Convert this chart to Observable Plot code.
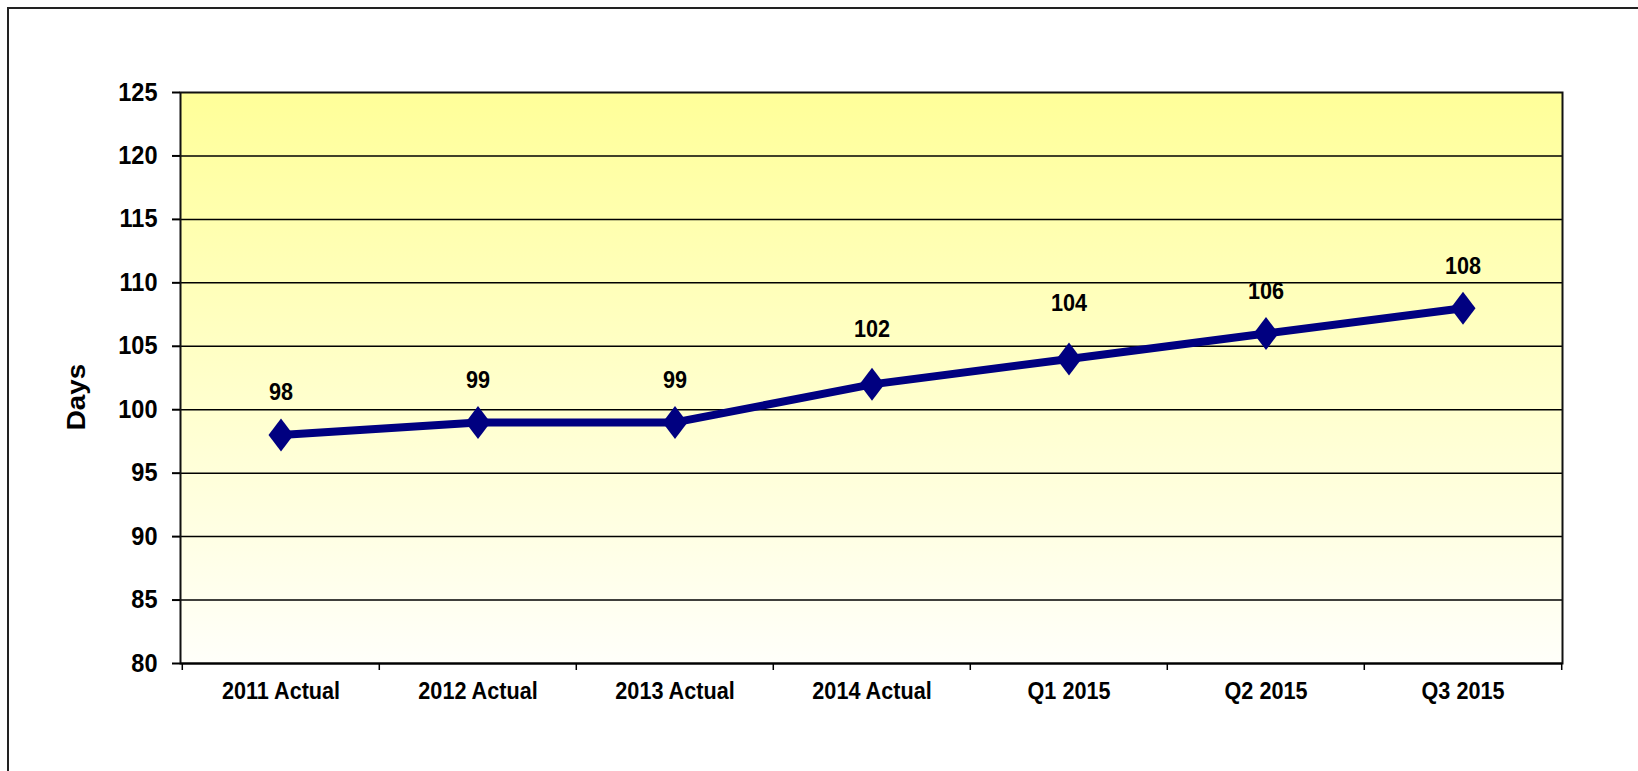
<!DOCTYPE html>
<html><head><meta charset="utf-8">
<script src="https://cdn.jsdelivr.net/npm/d3@7"></script>
<script src="https://cdn.jsdelivr.net/npm/@observablehq/plot@0.6"></script>
<style>
body{margin:0;background:#fff;}
#wrap{position:relative;width:1638px;height:771px;overflow:hidden;}
#frame{position:absolute;left:7px;top:7px;width:1700px;height:900px;border-top:2px solid #222;border-left:2px solid #222;}
#chart{position:absolute;left:0;top:0;}
</style></head><body>
<div id="wrap"><div id="frame"></div><div id="chart"></div></div>
<script>
const categories = ["2011 Actual", "2012 Actual", "2013 Actual", "2014 Actual", "Q1 2015", "Q2 2015", "Q3 2015"];
const values = [98, 99, 99, 102, 104, 106, 108];
const yTicks = [80, 85, 90, 95, 100, 105, 110, 115, 120, 125];
const yLabel = "Days";

const data = categories.map((c, i) => ({category: c, value: values[i]}));

const W = 1638, H = 771;
const mL = 180, mR = 76, mT = 92, mB = 108;
const bw = (W - mL - mR) / categories.length;

// labels that sit a bit higher in the original (moved clear of a gridline)
const raised = new Set(["2014 Actual", "Q1 2015"]);

const diamond = {
  draw(ctx) {
    const w = 12.5, h = 16.5;
    ctx.moveTo(0, -h); ctx.lineTo(w, 0); ctx.lineTo(0, h); ctx.lineTo(-w, 0); ctx.closePath();
  }
};

const chart = Plot.plot({
  width: W, height: H,
  marginLeft: mL, marginRight: mR, marginTop: mT, marginBottom: mB,
  style: {fontFamily: "'Liberation Sans', Arial, sans-serif", fontWeight: "bold", color: "#000", background: "transparent"},
  x: {type: "band", domain: categories, padding: 0, label: null},
  y: {domain: [80, 125], label: null},
  marks: [
    Plot.frame({fill: "url(#bgGrad)", stroke: null}),
    Plot.ruleY(yTicks.filter(v => v > 80 && v < 125), {stroke: "#000", strokeWidth: 1.5}),
    Plot.frame({stroke: "#111", strokeWidth: 2, fill: null}),
    Plot.ruleY([80], {stroke: "#000", strokeWidth: 2}),
    Plot.axisY({ticks: yTicks, tickSize: 8, tickPadding: 15, fontSize: 25, strokeWidth: 2, label: null}),
    Plot.axisX({ticks: categories, fill: "none", tickSize: 7, dx: -bw / 2, strokeWidth: 1.5, label: null}),
    Plot.axisX({ticks: [categories[categories.length - 1]], fill: "none", tickSize: 7, dx: bw / 2, strokeWidth: 1.5, label: null}),
    Plot.axisX({ticks: categories, tickSize: 0, tickPadding: 19, fontSize: 23, label: null}),
    Plot.line(data, {x: "category", y: "value", stroke: "#000080", strokeWidth: 8}),
    Plot.dot(data, {x: "category", y: "value", symbol: diamond, fill: "#000080", stroke: null}),
    Plot.text(data, {filter: d => !raised.has(d.category), x: "category", y: "value", text: d => String(d.value), dy: -42, fontSize: 23}),
    Plot.text(data, {filter: d => raised.has(d.category), x: "category", y: "value", text: d => String(d.value), dy: -55, fontSize: 23}),
    Plot.text([yLabel], {frameAnchor: "left", textAnchor: "middle", dx: -104, dy: 19, rotate: -90, fontSize: 26})
  ]
});

const svgEl = chart.tagName.toLowerCase() === "svg" ? chart : chart.querySelector("svg");
const svg = d3.select(svgEl);
const defs = svg.insert("defs", ":first-child");
const g = defs.append("linearGradient").attr("id", "bgGrad").attr("x1", 0).attr("y1", 0).attr("x2", 0).attr("y2", 1);
g.append("stop").attr("offset", "0%").attr("stop-color", "#ffff99");
g.append("stop").attr("offset", "100%").attr("stop-color", "#fffffa");

// slightly condensed glyphs, as in the original
svg.selectAll("text").each(function () {
  const t = this.getAttribute("transform") || "";
  const rotated = /rotate/.test(t);
  this.setAttribute("transform", t + (rotated ? " scale(1.07,1)" : " scale(0.94,1)"));
});

document.getElementById("chart").appendChild(chart);
</script>
</body></html>
